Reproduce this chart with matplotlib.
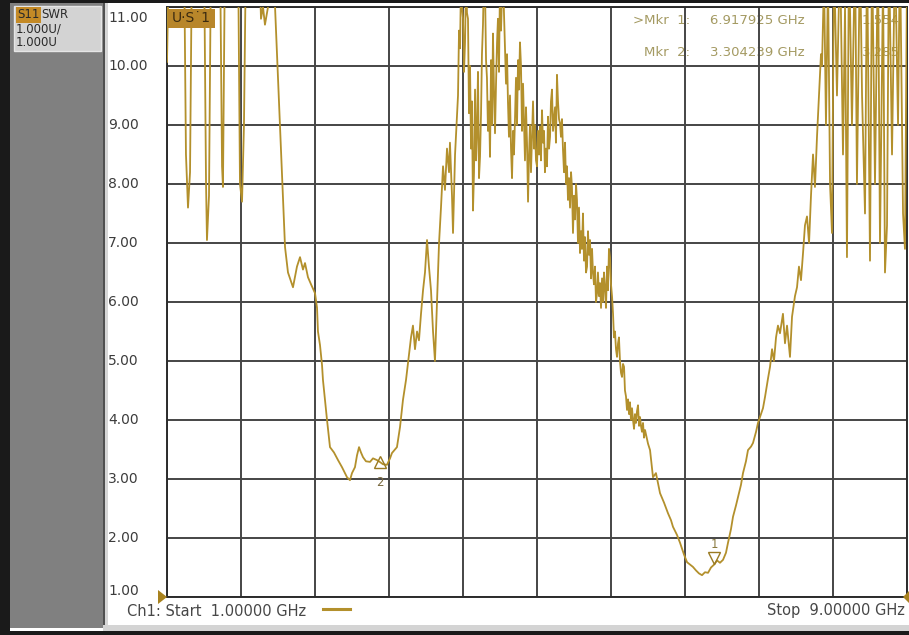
import matplotlib
matplotlib.use("Agg")
import matplotlib.pyplot as plt
from matplotlib.patches import Rectangle, Polygon
from matplotlib.lines import Line2D
from matplotlib import transforms
import numpy as np

plt.rcParams["font.family"] = ["DejaVu Sans"]

W, H = 909, 635

# ---- S11 SWR sweep: frequency (GHz) ----
freq_ghz = [
    1.000, 1.022, 1.184, 1.205, 1.227, 1.249, 1.270, 1.400, 1.422, 1.432,
    1.454, 1.476, 1.573, 1.595, 1.605, 1.627, 1.768, 1.789, 1.811, 1.832,
    1.854, 1.995, 2.016, 2.038, 2.059, 2.092, 2.124, 2.168, 2.222, 2.276,
    2.308, 2.362, 2.405, 2.438, 2.470, 2.492, 2.524, 2.557, 2.600, 2.622,
    2.632, 2.654, 2.676, 2.686, 2.730, 2.762, 2.805, 2.849, 2.892, 2.946,
    2.978, 3.000, 3.032, 3.054, 3.076, 3.097, 3.119, 3.151, 3.195, 3.227,
    3.270, 3.304239, 3.335, 3.378, 3.411, 3.432, 3.465, 3.486, 3.519, 3.551,
    3.584, 3.616, 3.638, 3.659, 3.681, 3.703, 3.724, 3.746, 3.768, 3.789,
    3.811, 3.832, 3.854, 3.876, 3.897, 3.919, 3.941, 3.962, 3.984, 4.005,
    4.027, 4.049, 4.059, 4.081, 4.092, 4.114,
    4.146, 4.157, 4.168, 4.178, 4.189, 4.200, 4.211, 4.222, 4.233, 4.243,
    4.254, 4.265, 4.276, 4.287, 4.297, 4.308, 4.319, 4.330, 4.341, 4.351,
    4.362, 4.373, 4.384, 4.395, 4.405, 4.416, 4.427, 4.438, 4.449, 4.459,
    4.470, 4.481, 4.492, 4.503, 4.514, 4.524, 4.535, 4.546, 4.557, 4.568,
    4.578, 4.589, 4.600, 4.611, 4.622, 4.632, 4.643, 4.654, 4.665, 4.676,
    4.686, 4.697, 4.708, 4.719, 4.730, 4.741, 4.751, 4.762, 4.773, 4.784,
    4.795, 4.805, 4.816, 4.827, 4.838, 4.849, 4.859, 4.870, 4.881, 4.892,
    4.903, 4.914, 4.924, 4.935, 4.946, 4.957, 4.968, 4.978, 4.989, 5.000,
    5.011, 5.022, 5.032, 5.043, 5.054, 5.065, 5.076, 5.086, 5.097, 5.108,
    5.119, 5.130, 5.141, 5.151, 5.162, 5.173, 5.184, 5.195, 5.205, 5.216,
    5.227, 5.238, 5.249, 5.259, 5.270, 5.281, 5.292, 5.303, 5.314, 5.324,
    5.335, 5.346, 5.357, 5.368, 5.378, 5.389, 5.400, 5.411, 5.422, 5.432,
    5.443, 5.454, 5.465, 5.476, 5.486, 5.497, 5.508, 5.519, 5.530, 5.541,
    5.551, 5.562, 5.573, 5.584, 5.595, 5.605, 5.616, 5.627, 5.638, 5.649,
    5.659, 5.670, 5.681, 5.692, 5.703, 5.714, 5.724, 5.735, 5.746, 5.757,
    5.768, 5.778, 5.789, 5.800, 5.811, 5.822, 5.832, 5.843, 5.854, 5.865,
    5.876, 5.886, 5.897, 5.908, 5.919, 5.930, 5.941, 5.951, 5.962, 5.973,
    5.984, 5.995, 6.005, 6.016, 6.027, 6.038, 6.049, 6.059, 6.070, 6.081,
    6.092, 6.103, 6.114, 6.124, 6.135, 6.146, 6.157, 6.168,
    6.200, 6.222, 6.254, 6.286, 6.330, 6.373, 6.416, 6.449, 6.470, 6.514,
    6.546, 6.589, 6.622, 6.654, 6.686, 6.719, 6.751, 6.784, 6.816, 6.849,
    6.881, 6.917925, 6.946, 6.978, 7.011, 7.043, 7.065, 7.097, 7.119, 7.151,
    7.173, 7.205, 7.227, 7.259, 7.281, 7.314, 7.335, 7.368, 7.389, 7.411,
    7.443, 7.465, 7.497, 7.519, 7.541, 7.562, 7.584, 7.605, 7.627, 7.659,
    7.681, 7.703, 7.735, 7.757, 7.789, 7.811, 7.832, 7.854, 7.876, 7.897,
    7.919, 7.941, 7.962, 7.984, 8.005, 8.027, 8.049, 8.070, 8.081, 8.103,
    8.124, 8.146, 8.168, 8.189, 8.211, 8.243, 8.276, 8.308, 8.330, 8.351,
    8.373, 8.405, 8.438, 8.459, 8.492, 8.514, 8.546, 8.568, 8.600, 8.622,
    8.654, 8.686, 8.708, 8.741, 8.762, 8.784, 8.805, 8.838, 8.870, 8.903,
    8.924, 8.957, 8.978, 9.000,
]

# ---- S11 SWR sweep: SWR (U) ----
swr = [
    10.07, 12.0, 12.0, 8.5, 7.6, 8.2, 12.0, 12.0, 8.0, 7.05,
    7.8, 12.0, 12.0, 8.3, 7.95, 12.0, 12.0, 8.0, 7.7, 9.0,
    12.0, 12.0, 10.8, 11.0, 10.7, 11.0, 11.6, 11.0, 8.97, 6.93,
    6.5, 6.25, 6.6, 6.76, 6.55, 6.66, 6.42, 6.3, 6.15, 5.9,
    5.5, 5.27, 4.93, 4.68, 4.0, 3.54, 3.45, 3.32, 3.2, 3.03,
    2.98, 3.1, 3.2, 3.4, 3.54, 3.45, 3.37, 3.3, 3.29, 3.35,
    3.32, 3.285, 3.25, 3.24, 3.35, 3.44, 3.5, 3.54, 3.88, 4.34,
    4.68, 5.1, 5.4, 5.6, 5.2, 5.5, 5.35, 5.8, 6.2, 6.5,
    7.05, 6.6, 6.2, 5.5, 5.0, 6.0, 7.0, 7.6, 8.3, 7.9,
    8.6, 8.2, 8.7, 7.8, 7.17, 8.5,
    9.5, 10.6, 10.3, 11.4, 11.0, 10.8, 9.9, 10.4, 11.5, 10.9,
    10.8, 9.2, 10.0, 8.6, 9.4, 7.55, 8.2, 9.6, 8.4, 8.86,
    9.9, 8.1, 8.46, 9.2, 10.2, 10.7, 11.6, 11.3, 10.1, 9.8,
    8.9, 9.4, 8.46, 10.1, 9.0, 10.55, 9.6, 8.86, 9.7, 10.4,
    10.8, 9.9, 11.4, 10.6, 11.2, 11.6, 10.9, 10.3, 9.7, 10.2,
    9.4, 8.8, 9.5, 8.6, 8.1, 8.9, 8.5, 9.1, 9.8, 9.0,
    10.1, 9.6, 10.4, 10.0, 8.9, 9.7, 9.1, 8.4, 9.3, 8.7,
    7.7, 8.5, 9.0, 8.2, 8.8, 9.4, 8.6, 9.0, 8.4, 8.3,
    8.9, 8.5, 8.97, 8.4, 9.25, 8.7, 8.9, 8.2, 8.6, 8.3,
    9.14, 8.6, 8.8, 9.4, 9.6, 8.9, 9.1, 9.3, 8.7, 9.85,
    9.4, 9.1, 9.03, 8.8, 9.1, 8.58, 8.2, 8.7, 8.0, 8.3,
    7.73, 8.1, 7.6, 8.2, 7.95, 7.17, 7.8, 7.4, 8.0, 7.73,
    7.0, 7.6, 6.83, 7.2, 6.9, 7.5, 6.7, 7.1, 6.5, 6.6,
    7.2, 6.8, 7.05, 6.4, 6.9, 6.5, 6.3, 6.6, 6.0, 6.15,
    6.5, 6.1, 6.32, 5.9, 6.4, 6.0, 6.5, 6.25, 5.9, 6.6,
    6.2, 6.9, 6.76, 6.3, 6.1, 5.8, 5.4, 5.5, 5.2, 5.07,
    5.3, 5.4, 5.0, 4.8, 4.73, 4.95, 4.9, 4.5, 4.4, 4.17,
    4.35, 4.1, 4.3, 4.0, 4.2, 4.0, 3.85, 4.1, 3.95, 4.15,
    4.25, 3.9, 4.05, 3.9, 3.8, 3.95, 3.7, 3.83,
    3.6, 3.49, 3.03, 3.1, 2.76, 2.6, 2.42, 2.3, 2.19, 2.05,
    1.92, 1.72, 1.59, 1.55, 1.51, 1.45, 1.4, 1.37, 1.42, 1.41,
    1.5, 1.554, 1.62, 1.58, 1.63, 1.75, 1.92, 2.15, 2.36, 2.55,
    2.69, 2.9, 3.1, 3.3, 3.49, 3.55, 3.61, 3.8, 3.95, 4.05,
    4.2, 4.39, 4.7, 4.9, 5.2, 5.0, 5.4, 5.6, 5.47, 5.8,
    5.3, 5.6, 5.07, 5.75, 6.1, 6.25, 6.6, 6.37, 6.83, 7.3,
    7.45, 7.0, 7.8, 8.5, 7.95, 8.8, 9.5, 10.2, 10.0, 11.5,
    9.0, 11.5, 8.0, 7.17, 11.8, 9.5, 12.0, 8.5, 11.0, 6.76,
    12.0, 9.0, 12.0, 8.0, 12.0, 9.5, 7.5, 12.0, 6.7, 12.0,
    8.0, 12.0, 7.0, 11.5, 6.5, 7.3, 12.0, 8.5, 12.0, 9.0,
    12.0, 7.5, 6.9, 11.5,
]
assert len(freq_ghz) == len(swr)

y_ticks = [1, 2, 3, 4, 5, 6, 7, 8, 9, 10, 11]
y_tick_labels = ["1.00", "2.00", "3.00", "4.00", "5.00", "6.00",
                 "7.00", "8.00", "9.00", "10.00", "11.00"]
start_ghz = 1.0
stop_ghz = 9.0
x_divisions = 10

mkr_ids = [1, 2]
mkr_freq_ghz = [6.917925, 3.304239]
mkr_swr = [1.554, 3.285]
mkr_active = [True, False]

TRACE = "#b3902c"
GRID = "#454545"
LABEL = "#3c3c3c"
MKR_TXT = "#a49a62"

fig = plt.figure(figsize=(W / 100, H / 100), dpi=100)
fig.patch.set_facecolor("white")

# pixel transform, origin top-left
PX = transforms.Affine2D().scale(1, -1).translate(0, H)


def rect(x0, y0, x1, y1, color, z=0, **kw):
    fig.add_artist(Rectangle((x0, y0), x1 - x0, y1 - y0, transform=PX,
                             facecolor=color, edgecolor=kw.pop("ec", "none"),
                             lw=kw.pop("lw", 0), zorder=z, **kw))


# window frame
rect(0, 0, W, 3, "#1a1a1a")
rect(0, 0, 10, H, "#1a1a1a")
rect(10, 3, 103, 628, "#808080")
rect(103, 3, 105, 628, "#505050")
rect(105, 3, 108, 628, "#d6d6d6")
rect(103, 625, W, 631, "#d4d4d4")
rect(0, 631, W, H, "#1a1a1a")

# channel/trace info box
rect(14, 6, 101, 51, "#d3d3d3", z=1, ec="#e6e6e6", lw=1)
fig.text(17, 15, "S11", transform=PX, fontsize=8.5, color="#2a2a2a",
         va="center", ha="left", zorder=3,
         bbox=dict(boxstyle="square,pad=0.12", fc="#c48a26", ec="none"))
fig.text(41, 14, "SWR", transform=PX, fontsize=8.5, color="#2a2a2a",
         va="center", ha="left", zorder=3)
fig.text(16, 29, "1.000U/", transform=PX, fontsize=8.5, color="#2a2a2a",
         va="center", ha="left", zorder=3)
fig.text(16, 42, "1.000U", transform=PX, fontsize=8.5, color="#2a2a2a",
         va="center", ha="left", zorder=3)

# plot area
ax = fig.add_axes([167 / W, 1 - 597 / H, 740 / W, 590 / H])
ax.set_xlim(start_ghz, stop_ghz)
ax.set_ylim(min(y_ticks), max(y_ticks))
ax.set_xticks(np.linspace(start_ghz, stop_ghz, x_divisions + 1))
ax.set_yticks(y_ticks)
ax.grid(True, color=GRID, lw=1.4)
ax.tick_params(length=0, labelbottom=False, labelleft=False)
for s in ax.spines.values():
    s.set_color("#2c2c2c")
    s.set_linewidth(1.4)

ax.plot(freq_ghz, swr, color=TRACE, lw=1.3, zorder=3)

# y scale labels
ytrans = transforms.blended_transform_factory(fig.transFigure, ax.transData)
for v, lab in zip(y_ticks, y_tick_labels):
    dy = -11 if v == max(y_ticks) else (6 if v == min(y_ticks) else 0)
    fig.text(108 / W, v, lab, fontsize=10, color=LABEL, va="center", ha="left",
             transform=transforms.offset_copy(ytrans, fig=fig, y=dy, units="dots"))

# marker readout (drawn beneath the trace)
row_y = [20, 53]
for i, (mid, f, v, act) in enumerate(zip(mkr_ids, mkr_freq_ghz, mkr_swr, mkr_active)):
    y = row_y[i]
    ax.text(690, y, (">" if act else "") + f"Mkr  {mid}:", transform=PX,
            fontsize=9.5, color=MKR_TXT, ha="right", va="center", zorder=1)
    ax.text(710, y, f"{f:.6f} GHz", transform=PX, fontsize=9.5, color=MKR_TXT,
            ha="left", va="center", zorder=1)
    ax.text(900, y, f"{v:.3f}", transform=PX, fontsize=9.5, color=MKR_TXT,
            ha="right", va="center", zorder=1)

# marker symbols on the trace
for mid, f, v, act in zip(mkr_ids, mkr_freq_ghz, mkr_swr, mkr_active):
    if act:
        tr = transforms.offset_copy(ax.transData, fig=fig, y=6, units="dots")
        ax.plot([f], [v], marker="v", ms=8, mfc="none", mec="#9a7a22", mew=1.0,
                transform=tr, zorder=4)
        ax.text(f, v, str(mid), fontsize=8.5, color="#8a7a40", ha="center",
                va="center",
                transform=transforms.offset_copy(ax.transData, fig=fig, y=20, units="dots"),
                zorder=4)
    else:
        ax.plot([f], [v], marker="^", ms=8, mfc="none", mec="#9a7a22", mew=1.0,
                zorder=4)
        ax.text(f, v, str(mid), fontsize=8.5, color="#7a6a40", ha="center",
                va="center",
                transform=transforms.offset_copy(ax.transData, fig=fig, y=-20, units="dots"),
                zorder=4)

# trace label box
ax.add_artist(Rectangle((168, 9), 47, 19, transform=PX, facecolor="#b8862a",
                        edgecolor="none", zorder=5))
ax.text(191.5, 18.5, "U·S˙1", transform=PX, fontsize=10, color="#3a2a10",
        ha="center", va="center", zorder=6)

# reference position arrows
fig.add_artist(Polygon([[158, 590], [167, 597], [158, 604]], closed=True,
                       transform=PX, facecolor="#a8821e", edgecolor="none", zorder=4))
fig.add_artist(Polygon([[909, 591], [903, 597], [909, 603]], closed=True,
                       transform=PX, facecolor="#a8821e", edgecolor="none", zorder=4))

# sweep annotation
fig.text(127, 611, f"Ch1: Start  {start_ghz:.5f} GHz", transform=PX, fontsize=10.5,
         color="#474747", ha="left", va="center")
fig.add_artist(Line2D([323, 350], [609, 609], transform=PX, color=TRACE, lw=2.2))
fig.text(905, 611, f"Stop  {stop_ghz:.5f} GHz", transform=PX, fontsize=10.5,
         color="#474747", ha="right", va="center")

fig.savefig("out.png", dpi=100)
